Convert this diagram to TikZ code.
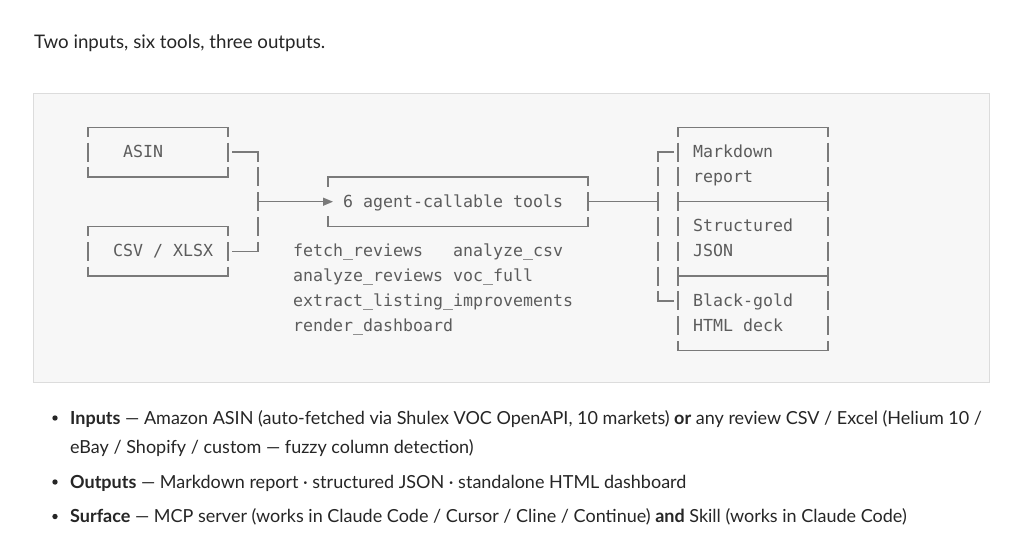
\documentclass[tikz,border=0pt]{standalone}
\usepackage{fontspec}
\setmainfont{Lato}
\newfontfamily\monofont{DejaVu Sans Mono}
\usetikzlibrary{arrows.meta,calc}
\definecolor{ink}{HTML}{262626}
\definecolor{codeink}{HTML}{5C5C5C}
\definecolor{codeline}{HTML}{7A7A7A}
\definecolor{codebg}{HTML}{F7F7F7}
\definecolor{codeborder}{HTML}{DCDCDC}
\tikzset{
  hl/.style={draw=codeline, line width=1.3pt, line cap=rect},
  vl/.style={draw=codeline, line width=1.3pt, dash pattern=on 19pt off 5.8pt, dash phase=9.5pt},
  mono/.style={font=\monofont\fontsize{16.6}{24.8}\selectfont, text=codeink, inner sep=0pt, anchor=base west, yshift=-5.3pt},
  boxarea/.style={inner sep=0pt, outer sep=0pt, minimum height=49.6pt},
  body/.style={font=\fontsize{18}{22}\selectfont, text=ink, inner sep=0pt, anchor=base west},
  bullet/.style={fill=ink},
}
\begin{document}
\begin{tikzpicture}[x=1pt,y=-1pt]
\useasboundingbox (0,0) rectangle (1024,551);
\fill[white] (0,0) rectangle (1024,551);
\node[body, font=\fontsize{18.7}{22}\selectfont] (title) at (34,48.3) {Two inputs, six tools, three outputs.};
\draw[fill=codebg, draw=codeborder, line width=1pt] (33.5,93.5) rectangle (989,382);

\begin{scope}[xshift=88pt, yshift=-127.3pt, x=10pt, y=-24.8pt]
  % box areas
  \node[boxarea, minimum width=140pt] (asin) at (7,1) {};
  \node[boxarea, minimum width=140pt] (csv) at (7,5) {};
  \node[boxarea, minimum width=260pt] (tools) at (37,3) {};
  \node[boxarea, minimum width=150pt, minimum height=74.4pt] (out1) at (66.5,1.5) {};
  \node[boxarea, minimum width=150pt, minimum height=74.4pt] (out2) at (66.5,4.5) {};
  \node[boxarea, minimum width=150pt, minimum height=74.4pt] (out3) at (66.5,7.5) {};

  % input boxes
  \foreach \n in {asin,csv}{
    \draw[hl] (\n.north west) -- (\n.north east) (\n.south west) -- (\n.south east);
    \draw[vl] (\n.north west) -- (\n.south west);
    \draw[vl] (\n.north east) -- (\n.south east);
  }
  % tools box
  \draw[hl] (tools.north west) -- (tools.north east) (tools.south west) -- (tools.south east);
  \draw[hl] (tools.north west) -- ++(0,-9.5pt) (tools.south west) -- ++(0,9.5pt);
  \draw[vl] (tools.north east) -- (tools.south east);
  % output stack
  \draw[hl] (out1.north west) -- (out1.north east)
            (out1.south west) -- (out1.south east)
            (out2.south west) -- (out2.south east)
            (out3.south west) -- (out3.south east);
  \draw[vl] (out1.north west) -- (out3.south west);
  \draw[vl] (out1.north east) -- (out3.south east);

  % input connectors
  \coordinate (jin) at (17,3);
  \draw[hl] ($(asin.east)+(5pt,0)$) -- (asin.east -| jin);
  \draw[hl] ($(csv.east)+(5pt,0)$) -- (csv.east -| jin);
  \draw[vl] (asin.east -| jin) -- (csv.east -| jin);
  \draw[hl, line cap=butt, -{Triangle[length=10pt,width=8pt]}] (jin) -- ($(tools.west)+(5pt,0)$);

  % output connectors
  \coordinate (jout) at (57,3);
  \coordinate (jtop) at (57,1);
  \coordinate (jbot) at (57,7);
  \coordinate (o1in) at (58.5,1);
  \coordinate (o3in) at (58.5,7);
  \draw[hl] (tools.east) -- (jout);
  \draw[vl] (jtop) -- (jbot);
  \draw[hl] (jtop) -- (o1in);
  \draw[hl] (jbot) -- (o3in);

  % texts
  \node[mono] (asinT) at (3.5,1) {ASIN};
  \node[mono] (csvT) at (2.5,5) {CSV / XLSX};
  \node[mono] (toolsT) at (25.5,3) {6 agent-callable tools};
  \node[mono] (tl1) at (20.5,5) {fetch\_reviews\ \ \ analyze\_csv};
  \node[mono] (tl2) at (20.5,6) {analyze\_reviews voc\_full};
  \node[mono] (tl3) at (20.5,7) {extract\_listing\_improvements};
  \node[mono] (tl4) at (20.5,8) {render\_dashboard};
  \node[mono] (o1a) at (60.5,1) {Markdown};
  \node[mono] (o1b) at (60.5,2) {report};
  \node[mono] (o2a) at (60.5,4) {Structured};
  \node[mono] (o2b) at (60.5,5) {JSON};
  \node[mono] (o3a) at (60.5,7) {Black-gold};
  \node[mono] (o3b) at (60.5,8) {HTML deck};
\end{scope}

% bullet list
\fill[bullet] (55,418) circle (2.7);
\fill[bullet] (55,482) circle (2.7);
\fill[bullet] (55,516.5) circle (2.7);
\node[body] (b1) at (70,424) {\textbf{Inputs} — Amazon ASIN (auto-fetched via Shulex VOC OpenAPI, 10 markets) \textbf{or} any review CSV / Excel (Helium 10 /};
\node[body] (b1b) at (70,453.5) {eBay / Shopify / custom — fuzzy column detection)};
\node[body] (b2) at (70,488) {\textbf{Outputs} — Markdown report · structured JSON · standalone HTML dashboard};
\node[body] (b3) at (70,522.5) {\textbf{Surface} — MCP server (works in Claude Code / Cursor / Cline / Continue) \textbf{and} Skill (works in Claude Code)};
\end{tikzpicture}
\end{document}
